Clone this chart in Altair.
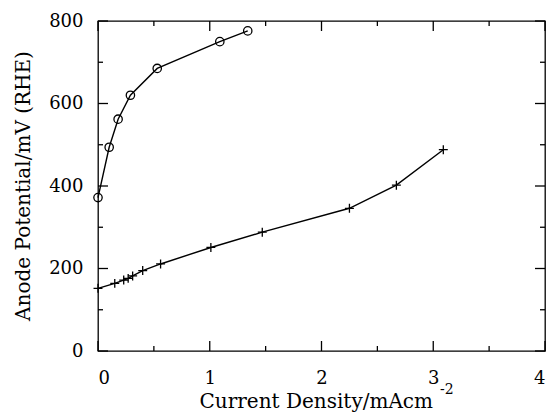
import altair as alt
import pandas as pd

# Series
circ_x = [0.0, 0.10, 0.18, 0.29, 0.53, 1.09, 1.34]
circ_y = [372, 494, 562, 620, 685, 750, 776]

cross_x = [0.0, 0.15, 0.23, 0.27, 0.31, 0.40, 0.56, 1.01, 1.47, 2.25, 2.67, 3.09]
cross_y = [152, 164, 172, 176, 182, 195, 211, 251, 288, 346, 402, 488]

x_major = [0, 1, 2, 3, 4]
x_minor = [0.5, 1.5, 2.5, 3.5]
y_major = [0, 200, 400, 600, 800]
y_minor = [100, 300, 500, 700]

x_title = "Current Density/mAcm"
x_title_sup = "-2"
y_title = "Anode Potential/mV (RHE)"

FONT = "DejaVu Serif"
W, H = 447, 330

xs = alt.Scale(domain=[0, 4], nice=False, zero=False)
ys = alt.Scale(domain=[0, 800], nice=False, zero=False)

circ = pd.DataFrame({"x": circ_x, "y": circ_y})
cross = pd.DataFrame({"x": cross_x, "y": cross_y})

xaxis = alt.Axis(values=x_major, ticks=False, domain=False, grid=False, title=None,
                 labelFont=FONT, labelFontSize=18, labelPadding=18, labelColor="black",
                 format="d")
yaxis = alt.Axis(values=y_major, ticks=False, domain=False, grid=False, title=None,
                 labelFont=FONT, labelFontSize=18, labelPadding=15, labelColor="black",
                 format="d")

circ_line = alt.Chart(circ).mark_line(color="black", strokeWidth=1.4).encode(
    x=alt.X("x:Q", scale=xs, axis=xaxis),
    y=alt.Y("y:Q", scale=ys, axis=yaxis),
)
circ_pts = alt.Chart(circ).mark_point(shape="circle", filled=False, color="black",
                                      size=70, strokeWidth=1.3, opacity=1).encode(
    x=alt.X("x:Q", scale=xs, axis=xaxis),
    y=alt.Y("y:Q", scale=ys, axis=yaxis),
)
cross_line = alt.Chart(cross).mark_line(color="black", strokeWidth=1.4).encode(
    x=alt.X("x:Q", scale=xs, axis=xaxis),
    y=alt.Y("y:Q", scale=ys, axis=yaxis),
)
cross_pts = alt.Chart(cross).mark_point(shape="M-1,0H1M0,-1V1", filled=False, color="black",
                                        size=80, strokeWidth=1.3, opacity=1).encode(
    x=alt.X("x:Q", scale=xs, axis=xaxis),
    y=alt.Y("y:Q", scale=ys, axis=yaxis),
)

def xticks(vals, length):
    df = pd.DataFrame({"x": vals})
    bottom = alt.Chart(df).mark_rule(color="black", strokeWidth=1.3).encode(
        x=alt.X("x:Q", scale=xs, axis=xaxis), y=alt.value(H), y2=alt.value(H - length))
    top = alt.Chart(df).mark_rule(color="black", strokeWidth=1.3).encode(
        x=alt.X("x:Q", scale=xs, axis=xaxis), y=alt.value(0), y2=alt.value(length))
    return [bottom, top]

def yticks(vals, length):
    df = pd.DataFrame({"y": vals})
    left = alt.Chart(df).mark_rule(color="black", strokeWidth=1.3).encode(
        y=alt.Y("y:Q", scale=ys, axis=yaxis), x=alt.value(0), x2=alt.value(length))
    right = alt.Chart(df).mark_rule(color="black", strokeWidth=1.3).encode(
        y=alt.Y("y:Q", scale=ys, axis=yaxis), x=alt.value(W), x2=alt.value(W - length))
    return [left, right]

ticks = xticks(x_major, 10) + xticks(x_minor, 5) + yticks(y_major, 10) + yticks(y_minor, 5)

xt = alt.Chart(pd.DataFrame({"t": [x_title]})).mark_text(
    font=FONT, fontSize=20, align="right", baseline="alphabetic", color="black"
).encode(text="t:N", x=alt.value(335), y=alt.value(387))
xt_sup = alt.Chart(pd.DataFrame({"t": [x_title_sup]})).mark_text(
    font=FONT, fontSize=14, align="left", baseline="alphabetic", color="black"
).encode(text="t:N", x=alt.value(342), y=alt.value(373))
yt = alt.Chart(pd.DataFrame({"t": [y_title]})).mark_text(
    font=FONT, fontSize=20, align="center", baseline="alphabetic", angle=270, color="black"
).encode(text="t:N", x=alt.value(-68), y=alt.value(165))

chart = alt.layer(
    circ_line, cross_line, circ_pts, cross_pts, *ticks, xt, xt_sup, yt
).properties(
    width=W, height=H,
    autosize=alt.AutoSizeParams(type="none"),
    padding={"left": 98, "top": 21, "right": 6, "bottom": 65},
    background="white",
).configure_view(stroke="black", strokeWidth=1.3)

chart.save("out.html", embed_options={"renderer": "svg", "actions": False})
